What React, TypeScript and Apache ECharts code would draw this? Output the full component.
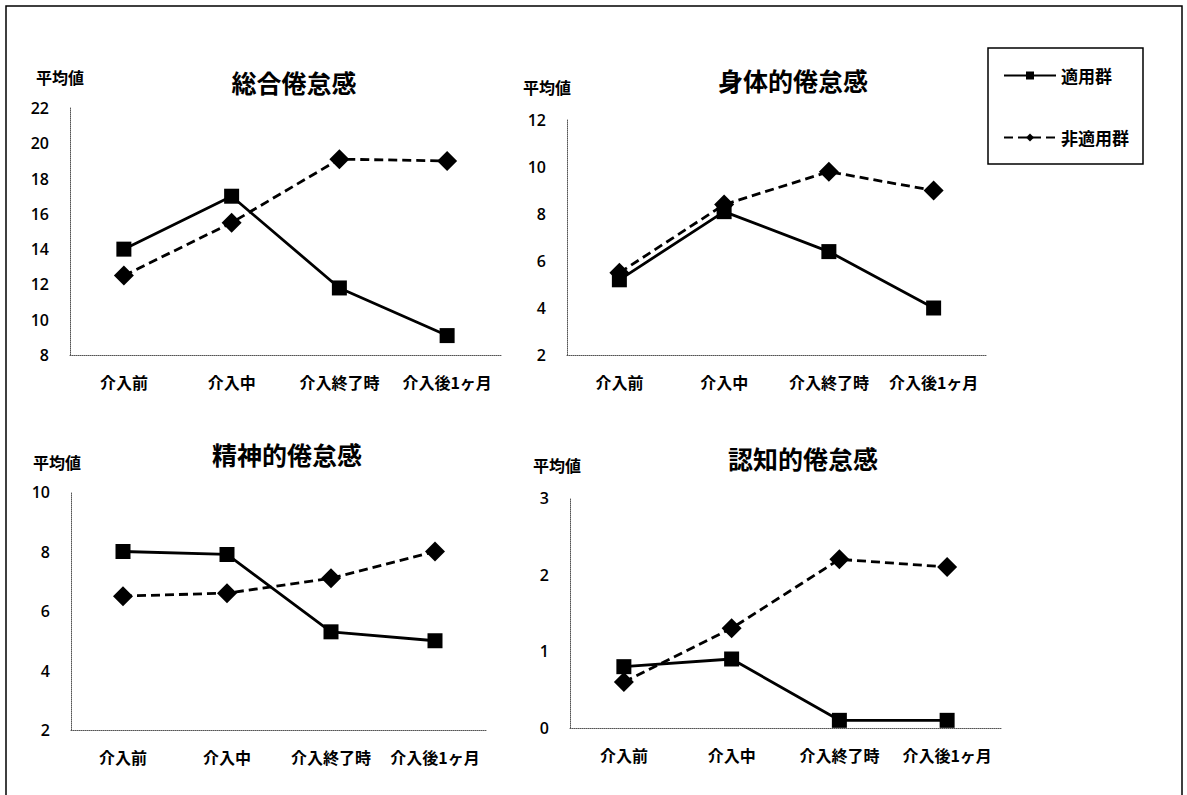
import React, { useEffect, useRef } from "react";
import * as echarts from "echarts";

// Time points on every x axis
const timePoints = ["介入前", "介入中", "介入終了時", "介入後1ヶ月"];

// Group names
const groupApplied = "適用群";
const groupNotApplied = "非適用群";

// Mean fatigue scores per panel
const totalApplied = [14.0, 17.0, 11.8, 9.1];
const totalNotApplied = [12.5, 15.5, 19.1, 19.0];

const physicalApplied = [5.2, 8.1, 6.4, 4.0];
const physicalNotApplied = [5.5, 8.4, 9.8, 9.0];

const mentalApplied = [8.0, 7.9, 5.3, 5.0];
const mentalNotApplied = [6.5, 6.6, 7.1, 8.0];

const cognitiveApplied = [0.8, 0.9, 0.1, 0.1];
const cognitiveNotApplied = [0.6, 1.3, 2.2, 2.1];

// Panel titles and y-axis ranges
const panelTitles = ["総合倦怠感", "身体的倦怠感", "精神的倦怠感", "認知的倦怠感"];
const yMins = [8, 2, 2, 0];
const yMaxs = [22, 12, 10, 3];
const yIntervals = [2, 2, 2, 1];
const yAxisName = "平均値";

const JP = '"Noto Sans CJK JP", "Noto Sans", sans-serif';
const NUM = '"Open Sans", "Noto Sans CJK JP", sans-serif';

// Panel layout (pixels)
const grids = [
  { left: 70, top: 108, width: 431, height: 247 },
  { left: 567, top: 120, width: 419, height: 235 },
  { left: 71, top: 492, width: 416, height: 238 },
  { left: 570, top: 498, width: 431, height: 230 },
];
const titlePos = [
  [294, 82],
  [793, 80],
  [287, 454],
  [803, 458],
];
const unitPos = [
  [60, 77],
  [547, 87],
  [57, 462],
  [557, 465],
];

export default function App() {
  const ref = useRef<HTMLDivElement>(null);

  useEffect(() => {
    if (!ref.current) return;
    const chart = echarts.init(ref.current, undefined, { renderer: "svg" });

    const pairs = [
      [totalApplied, totalNotApplied],
      [physicalApplied, physicalNotApplied],
      [mentalApplied, mentalNotApplied],
      [cognitiveApplied, cognitiveNotApplied],
    ];

    const axisLine = {
      show: true,
      lineStyle: { color: "#555", width: 1, type: "dotted" as const },
    };

    const series: any[] = [];
    pairs.forEach(([a, b], i) => {
      series.push({
        name: groupApplied,
        type: "line",
        xAxisIndex: i,
        yAxisIndex: i,
        data: a,
        symbol: "rect",
        symbolSize: 15,
        lineStyle: { color: "#000", width: 2.8, type: "solid" },
        itemStyle: { color: "#000" },
        z: 2,
      });
      series.push({
        name: groupNotApplied,
        type: "line",
        xAxisIndex: i,
        yAxisIndex: i,
        data: b,
        symbol: "diamond",
        symbolSize: 20,
        lineStyle: { color: "#000", width: 2.8, type: [9, 5] },
        itemStyle: { color: "#000" },
        z: 3,
      });
    });

    const textEl = (x: number, y: number, text: string, font: string) => ({
      type: "text",
      x,
      y,
      style: {
        text,
        font,
        fill: "#000",
        align: "center",
        verticalAlign: "middle",
        textAlign: "center",
        textVerticalAlign: "middle",
      },
    });

    chart.setOption({
      animation: false,
      backgroundColor: "#fff",
      grid: grids.map((g) => ({ ...g, containLabel: false, outerBoundsMode: "none" })),
      xAxis: grids.map((_, i) => ({
        type: "category",
        gridIndex: i,
        data: timePoints,
        boundaryGap: true,
        axisLine,
        axisTick: { show: false },
        splitLine: { show: false },
        axisLabel: {
          interval: 0,
          margin: 19,
          color: "#000",
          fontSize: 16,
          fontWeight: "bold",
          fontFamily: JP,
        },
      })),
      yAxis: grids.map((_, i) => ({
        type: "value",
        gridIndex: i,
        min: yMins[i],
        max: yMaxs[i],
        interval: yIntervals[i],
        axisLine,
        axisTick: { show: false },
        splitLine: { show: false },
        axisLabel: {
          margin: 21,
          color: "#000",
          fontSize: 16,
          fontWeight: 600,
          fontFamily: NUM,
        },
      })),
      legend: {
        data: [groupApplied, groupNotApplied],
        orient: "vertical",
        left: 988,
        top: 48,
        padding: [19, 14, 18, 15],
        itemWidth: 52,
        itemHeight: 10,
        itemGap: 45,
        borderColor: "#000",
        borderWidth: 1.5,
        backgroundColor: "#fff",
        textStyle: { color: "#000", fontSize: 17, fontWeight: "bold", fontFamily: JP },
      },
      graphic: [
        {
          type: "polyline",
          shape: {
            points: [
              [6, 795],
              [6, 6],
              [1182, 6],
              [1182, 795],
            ],
          },
          style: { stroke: "#000", lineWidth: 1.5, fill: "none" },
          silent: true,
        },
        ...panelTitles.map((t, i) =>
          textEl(titlePos[i][0], titlePos[i][1], t, `bold 25px ${JP}`)
        ),
        ...unitPos.map((p) => textEl(p[0], p[1], yAxisName, `bold 16px ${JP}`)),
      ],
      series,
    });

    return () => chart.dispose();
  }, []);

  return (
    <div
      ref={ref}
      style={{
        position: "fixed",
        left: 0,
        top: 0,
        width: 1187,
        height: 795,
        background: "#fff",
      }}
    />
  );
}
